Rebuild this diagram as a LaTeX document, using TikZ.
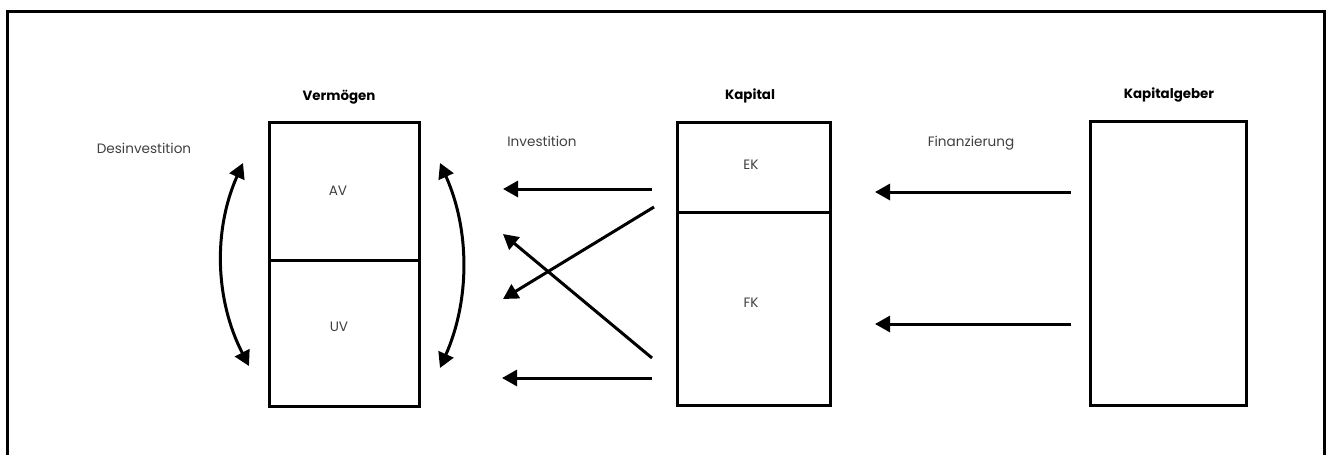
\documentclass[tikz,border=0pt]{standalone}
\usepackage{fontspec}
\setmainfont{Poppins}
\usetikzlibrary{arrows.meta}
\begin{document}
\begin{tikzpicture}[x=1pt,y=-1pt,
  line width=3pt,
  box/.style={draw,line width=3pt,inner sep=0pt,anchor=north west},
  lbl/.style={text=black!75,font=\fontsize{13.6}{16}\selectfont,inner sep=0pt},
  head/.style={font=\bfseries\fontsize{13.4}{16}\selectfont,inner sep=0pt},
  arr/.style={-{Triangle[length=15pt,width=16pt]},line width=3pt},
  darr/.style={{Triangle[length=15pt,width=16pt]}-{Triangle[length=15pt,width=16pt]},line width=3pt}]
\useasboundingbox (0,0) rectangle (1329,455);
% outer frame (no bottom edge)
\draw[line width=3pt] (7,455) -- (7,11) -- (1324,11) -- (1324,455);
% Vermögen
\node[box,minimum width=150pt,minimum height=138pt] (av) at (268,121) {};
\node[box,minimum width=150pt,minimum height=146pt] (uv) at (268,259) {};
\node[head] (hv) at (339,97) {Vermögen};
\node[lbl] (tav) at (338,191) {AV};
\node[lbl] (tuv) at (339,327) {UV};
% Kapital
\node[box,minimum width=153pt,minimum height=90pt] (ek) at (676,121) {};
\node[box,minimum width=153pt,minimum height=193pt] (fk) at (676,211) {};
\node[head] (hk) at (750,96) {Kapital};
\node[lbl] (tek) at (751,165) {EK};
\node[lbl] (tfk) at (751,303) {FK};
% Kapitalgeber
\node[box,minimum width=156pt,minimum height=284pt] (kg) at (1089,120) {};
\node[head] (hkg) at (1169,95) {Kapitalgeber};
% labels
\node[lbl] (des) at (144,148) {Desinvestition};
\node[lbl] (inv) at (542,141) {Investition};
\node[lbl] (fin) at (971,143) {Finanzierung};
% coordinates
\coordinate (i1s) at (652,189); \coordinate (i1e) at (503,189);
\coordinate (i2s) at (654,207); \coordinate (i2e) at (503,299);
\coordinate (i3s) at (652,358); \coordinate (i3e) at (503,234);
\coordinate (i4s) at (652,378); \coordinate (i4e) at (502,378);
\coordinate (f1s) at (1071,192); \coordinate (f1e) at (875,192);
\coordinate (f2s) at (1071,324); \coordinate (f2e) at (875,324);
\coordinate (l1) at (243,163); \coordinate (l2) at (249,366);
\coordinate (r1) at (440,163); \coordinate (r2) at (440,368);
% arrows
\draw[arr] (i1s) -- (i1e);
\draw[arr] (i2s) -- (i2e);
\draw[arr] (i3s) -- (i3e);
\draw[arr] (i4s) -- (i4e);
\draw[arr] (f1s) -- (f1e);
\draw[arr] (f2s) -- (f2e);
\draw[darr] (l1) .. controls (213,230) and (215,300) .. (l2);
\draw[darr] (r1) .. controls (470,230) and (470,300) .. (r2);
\end{tikzpicture}
\end{document}
